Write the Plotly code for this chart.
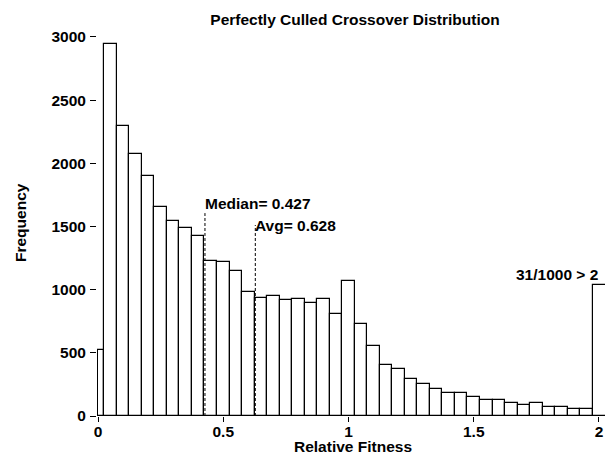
import plotly.graph_objects as go

# ---- data ----
bin_edges = [0.0] + [round(0.025 + 0.05 * k, 3) for k in range(40)] + [2.075]
counts = [525, 2943, 2292, 2075, 1896, 1651, 1540, 1486, 1427, 1224,
          1216, 1145, 983, 937, 947, 918, 926, 898, 923, 809,
          1065, 730, 556, 401, 374, 293, 253, 214, 179, 179,
          153, 129, 129, 100, 87, 100, 69, 69, 58, 58,
          1039]
median_value = 0.427
avg_value = 0.628
x_tick_vals = [0, 0.5, 1, 1.5, 2]
x_tick_text = ["0", "0.5", "1", "1.5", "2"]
y_tick_vals = [0, 500, 1000, 1500, 2000, 2500, 3000]
title_text = "Perfectly Culled Crossover Distribution"
x_title = "Relative Fitness"
y_title = "Frequency"
median_label = "Median= 0.427"
avg_label = "Avg= 0.628"
over_label = "31/1000 > 2"

centers = [(bin_edges[i] + bin_edges[i + 1]) / 2 for i in range(len(counts))]
widths = [bin_edges[i + 1] - bin_edges[i] for i in range(len(counts))]

FONT = "Liberation Sans, Arial, sans-serif"
FS = 15.5
W, H = 605, 453
ML, MR, MT, MB = 97, 0, 30, 37

fig = go.Figure()
fig.add_trace(go.Bar(
    x=centers, y=counts, width=widths,
    marker=dict(color="white", line=dict(color="black", width=1.2)),
    showlegend=False, hoverinfo="x+y",
))
fig.add_trace(go.Scatter(
    x=[median_value, median_value], y=[0, 1606], mode="lines",
    line=dict(color="black", width=1, dash="3px,2px"), showlegend=False,
))
fig.add_trace(go.Scatter(
    x=[avg_value, avg_value], y=[0, 1511], mode="lines",
    line=dict(color="black", width=1, dash="3px,2px"), showlegend=False,
))

font = dict(family=FONT, size=FS, color="black", weight="bold")

annotations = [
    dict(x=0.418, y=1685, xref="x", yref="y", text=median_label, showarrow=False,
         xanchor="left", yanchor="middle", font=font),
    dict(x=0.618, y=1507, xref="x", yref="y", text=avg_label, showarrow=False,
         xanchor="left", yanchor="middle", font=font),
    dict(x=2.006, y=1123, xref="x", yref="y", text=over_label, showarrow=False,
         xanchor="right", yanchor="middle", font=font),
    dict(x=(20 - ML) / (W - ML - MR), y=0.5, xref="paper", yref="paper",
         text=y_title, textangle=-90, showarrow=False,
         xanchor="center", yanchor="middle", font=font),
    dict(x=(353 - ML) / (W - ML - MR), y=-(446 - (H - MB)) / (H - MT - MB),
         xref="paper", yref="paper", text=x_title, showarrow=False,
         xanchor="center", yanchor="middle", font=font),
]

fig.update_layout(
    template="none",
    width=W, height=H,
    margin=dict(l=ML, r=MR, t=MT, b=MB, pad=0, autoexpand=False),
    paper_bgcolor="white", plot_bgcolor="white",
    bargap=0,
    title=dict(text=title_text, x=355 / W, xref="container", xanchor="center",
               y=1 - 20 / H, yref="container", yanchor="middle", font=font),
    annotations=annotations,
    xaxis=dict(range=[-0.004, 2.024], tickvals=x_tick_vals, ticktext=x_tick_text,
               ticks="outside", ticklen=5, tickwidth=1, tickcolor="black",
               ticklabelstandoff=-4,
               showgrid=False, zeroline=False, showline=False, automargin=False,
               tickfont=font),
    yaxis=dict(range=[0, 3055], tickvals=y_tick_vals,
               ticks="outside", ticklen=6, tickwidth=1, tickcolor="black",
               ticklabelstandoff=1,
               showgrid=False, zeroline=False, showline=False, automargin=False,
               tickfont=font),
)

fig.write_html("out.html", config={"displayModeBar": False},
               post_script="document.body.style.margin='0';document.body.style.overflow='hidden';")
